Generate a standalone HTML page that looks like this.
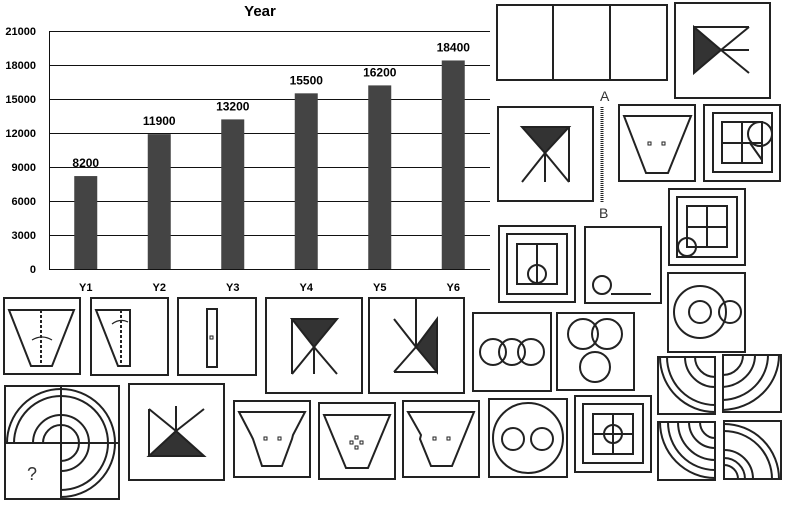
<!DOCTYPE html>
<html><head><meta charset="utf-8"><style>
body{margin:0;background:#fff;width:787px;height:505px;overflow:hidden;font-family:"Liberation Sans",sans-serif}
svg{position:absolute;left:0;top:0}
</style></head><body>
<svg id="chart" width="787" height="505" viewBox="0 0 787 505">
<text x="260" y="16" text-anchor="middle" font-size="15" font-weight="bold" font-family="Liberation Sans, sans-serif">Year</text>
<g id="grid"></g><g id="bars"></g>
</svg>
<svg width="787" height="505" viewBox="0 0 787 505" fill="none" stroke="#222" stroke-width="2">
<g><rect x="497" y="5" width="170" height="75"/><line x1="553" y1="5" x2="553" y2="80"/><line x1="610" y1="5" x2="610" y2="80"/></g>
<g><rect x="675" y="3" width="95" height="95"/><polygon points="694,27 694,73 721,50" fill="#333"/><line x1="694" y1="27" x2="749" y2="27"/><line x1="749" y1="27" x2="721" y2="50"/><line x1="721" y1="50" x2="749" y2="73"/><line x1="721" y1="50" x2="749" y2="50"/></g>
<g><rect x="498" y="107" width="95" height="94"/><polygon points="522,127 569,127 545,153" fill="#333"/><line x1="545" y1="153" x2="522" y2="182"/><line x1="545" y1="153" x2="545" y2="182"/><line x1="545" y1="153" x2="569" y2="182"/><line x1="569" y1="127" x2="569" y2="182"/></g>
<g><line x1="602" y1="107" x2="602" y2="203" stroke-width="3" stroke-dasharray="1 1"/></g>
<text x="600" y="101" fill="#333" stroke="none" font-size="14">A</text><text x="599" y="218" fill="#333" stroke="none" font-size="14">B</text>
<g><rect x="619" y="105" width="76" height="76"/><polygon points="624,116 691,116 668,173 646,173"/><rect x="648" y="142" width="3" height="3" stroke-width="1"/><rect x="662" y="142" width="3" height="3" stroke-width="1"/></g>
<g><rect x="704" y="105" width="76" height="76"/><rect x="713" y="113" width="59" height="59"/><rect x="722" y="122" width="40" height="41"/><line x1="742" y1="122" x2="742" y2="163"/><line x1="722" y1="143" x2="762" y2="143"/><circle cx="760" cy="134" r="12"/><line x1="750" y1="143" x2="762" y2="160"/></g>
<g><rect x="669" y="189" width="76" height="76"/><rect x="677" y="197" width="60" height="60"/><rect x="687" y="206" width="40" height="41"/><line x1="707" y1="206" x2="707" y2="247"/><line x1="687" y1="227" x2="727" y2="227"/><circle cx="687" cy="247" r="9"/></g>
<g><rect x="499" y="226" width="76" height="76"/><rect x="507" y="234" width="60" height="60"/><rect x="517" y="244" width="40" height="40"/><line x1="537" y1="244" x2="537" y2="284"/><circle cx="537" cy="274" r="9"/></g>
<g><rect x="585" y="227" width="76" height="76"/><circle cx="602" cy="285" r="9"/><line x1="611" y1="294" x2="651" y2="294"/></g>
<g><rect x="668" y="273" width="77" height="79"/><circle cx="700" cy="312" r="26"/><circle cx="700" cy="312" r="11"/><circle cx="730" cy="312" r="11"/></g>
<g><rect x="4" y="298" width="76" height="76"/><polygon points="9,310 74,310 52,366 31,366"/><line x1="41" y1="310" x2="41" y2="366" stroke-dasharray="3 2"/><path d="M52,340 Q42,334 32,340" stroke-width="1.2"/></g>
<g><rect x="91" y="298" width="77" height="77"/><polygon points="96,310 130,310 130,366 118,366"/><line x1="121" y1="310" x2="121" y2="366" stroke-dasharray="3 2"/><path d="M112,324 Q120,318 128,322" stroke-width="1.2"/></g>
<g><rect x="178" y="298" width="78" height="77"/><rect x="207" y="309" width="10" height="58"/><rect x="210" y="336" width="3" height="3" stroke-width="1"/></g>
<g><rect x="266" y="298" width="96" height="95"/><polygon points="292,319 337,319 314,347" fill="#333"/><line x1="292" y1="319" x2="292" y2="374"/><line x1="314" y1="347" x2="292" y2="374"/><line x1="314" y1="347" x2="314" y2="374"/><line x1="314" y1="347" x2="337" y2="374"/></g>
<g><rect x="369" y="298" width="95" height="95"/><polygon points="437,319 437,372 416,347" fill="#333"/><line x1="394" y1="319" x2="416" y2="347"/><line x1="416" y1="299" x2="416" y2="347" /><line x1="416" y1="347" x2="394" y2="372"/><line x1="394" y1="372" x2="437" y2="372"/></g>
<g><rect x="473" y="313" width="78" height="78"/><circle cx="493" cy="352" r="13"/><circle cx="512" cy="352" r="13"/><circle cx="531" cy="352" r="13"/></g>
<g><rect x="557" y="313" width="77" height="77"/><circle cx="583" cy="334" r="15"/><circle cx="607" cy="334" r="15"/><circle cx="595" cy="367" r="15"/></g>
<g><rect x="5" y="386" width="114" height="113"/><line x1="5" y1="443" x2="119" y2="443"/><line x1="61" y1="386" x2="61" y2="499"/><path d="M7,443 A54,54 0 0 1 115,443 M14,443 A47,47 0 0 1 108,443 M33,443 A28,28 0 0 1 89,443 M43,443 A18,18 0 0 1 79,443"/><path d="M61,497 A54,54 0 0 0 115,443 M61,490 A47,47 0 0 0 108,443 M61,471 A28,28 0 0 0 89,443 M61,461 A18,18 0 0 0 79,443"/><text x="27" y="480" fill="#333" stroke="none" font-size="18">?</text></g>
<g><rect x="129" y="384" width="95" height="96"/><polygon points="149,456 204,456 176,431" fill="#333"/><line x1="149" y1="409" x2="149" y2="456"/><line x1="149" y1="409" x2="176" y2="431"/><line x1="176" y1="406" x2="176" y2="431"/><line x1="176" y1="431" x2="204" y2="409"/></g>
<g><rect x="234" y="401" width="76" height="76"/><polygon points="239,412 305,412 293,435 292,439 282,466 262,466 253,439 251,435"/><rect x="264" y="437" width="3" height="3" stroke-width="1"/><rect x="278" y="437" width="3" height="3" stroke-width="1"/></g>
<g><rect x="319" y="403" width="76" height="76"/><polygon points="324,415 390,415 368,468 346,468"/><rect x="355" y="436" width="3" height="3" stroke-width="1"/><rect x="350" y="441" width="3" height="3" stroke-width="1"/><rect x="360" y="441" width="3" height="3" stroke-width="1"/><rect x="355" y="446" width="3" height="3" stroke-width="1"/></g>
<g><rect x="403" y="401" width="76" height="76"/><polygon points="408,412 474,412 452,466 431,466 420,439 421,435"/><rect x="433" y="437" width="3" height="3" stroke-width="1"/><rect x="447" y="437" width="3" height="3" stroke-width="1"/></g>
<g><rect x="489" y="399" width="78" height="78"/><circle cx="528" cy="438" r="35"/><circle cx="513" cy="439" r="11"/><circle cx="542" cy="439" r="11"/></g>
<g><rect x="575" y="396" width="76" height="76"/><rect x="583" y="404" width="60" height="59"/><rect x="593" y="414" width="40" height="40"/><line x1="613" y1="414" x2="613" y2="454"/><line x1="593" y1="434" x2="633" y2="434"/><circle cx="613" cy="434" r="9"/></g>
<g>
<rect x="658" y="357" width="57" height="57"/><path d="M715,412 A55,55 0 0 1 660,357 M715,405 A48,48 0 0 1 667,357 M715,387 A30,30 0 0 1 685,357 M715,377 A20,20 0 0 1 695,357"/>
<rect x="723" y="355" width="58" height="57"/><path d="M723,410 A58,55 0 0 0 779,355 M723,400 A47,45 0 0 0 768,355 M723,387 A35,32 0 0 0 755,355 M723,375 A20,20 0 0 0 743,355"/>
<rect x="658" y="422" width="57" height="58"/><path d="M715,478 A55,56 0 0 1 660,422 M715,470 A47,48 0 0 1 668,422 M715,460 A37,38 0 0 1 678,422 M715,448 A26,26 0 0 1 689,422 M715,438 A15,16 0 0 1 700,422"/>
<rect x="724" y="421" width="57" height="58"/><path d="M724,424 A55,55 0 0 1 779,479 M724,431 A48,48 0 0 1 772,479 M724,450 A29,29 0 0 1 753,479 M724,458 A21,21 0 0 1 745,479 M724,465 A14,14 0 0 1 738,479"/>
</g>
</svg>
<script>
const categories=["Y1","Y2","Y3","Y4","Y5","Y6"];
const values=[8200,11900,13200,15500,16200,18400];
const ticks=[0,3000,6000,9000,12000,15000,18000,21000];
const NS="http://www.w3.org/2000/svg";
const x0=49,x1=490,y0=269,y1=31,maxV=21000;
const yS=v=>y0-(v/maxV)*(y0-y1);
const band=(x1-x0)/categories.length;
const xS=i=>x0+band*(i+0.5);
const grid=document.getElementById('grid'),bars=document.getElementById('bars');
function mk(t,a,p){const e=document.createElementNS(NS,t);for(const k in a)e.setAttribute(k,a[k]);p.appendChild(e);return e;}
ticks.forEach(t=>{
 const yy=Math.round(yS(t))+0.5;
 const l=mk('line',{x1:x0,x2:x1,y1:yy,y2:yy,stroke:'#111','stroke-width':1},grid);
 
 
 const tx=mk('text',{x:36,y:yS(t)+4,'text-anchor':'end','font-size':11,'font-weight':'bold'},grid);
 tx.textContent=t;
 
 
});
const ax=mk('line',{x1:x0+0.5,x2:x0+0.5,y1:y1,y2:y0,stroke:'#111','stroke-width':1},grid);


values.forEach((v,i)=>{
 const w=23;
 const r=mk('rect',{x:xS(i)-w/2,y:yS(v),width:w,height:y0-yS(v),fill:'#444'},bars);
 
 
 const lb=mk('text',{x:xS(i),y:yS(v)-9,'text-anchor':'middle','font-size':12,'font-weight':'bold'},bars);
 lb.textContent=v;
 
 
 const xl=mk('text',{x:xS(i),y:291,'text-anchor':'middle','font-size':11,'font-weight':'bold'},bars);
 xl.textContent=categories[i];
 
 
});
</script>
</body></html>
